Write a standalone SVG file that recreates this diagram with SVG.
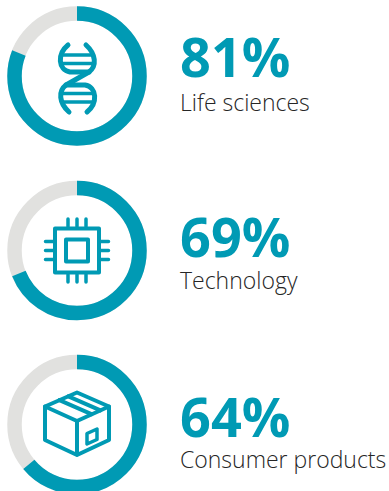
<svg xmlns="http://www.w3.org/2000/svg" width="389" height="491" viewBox="0 0 389 491">
<style>
.bg{fill:none;stroke:#E1E1DF;stroke-width:14.5}
.fg{fill:none;stroke:#009AB4;stroke-width:14.5}
.ic{fill:none;stroke:#009AB4;stroke-width:4;stroke-linecap:round;stroke-linejoin:round}
.pct{font-family:"Open Sans","Liberation Sans",sans-serif;font-weight:700;font-size:54px;fill:#009AB4}
.lbl{font-family:"Open Sans","Liberation Sans",sans-serif;font-weight:300;font-size:23px;fill:#262626}
</style>
<rect width="389" height="491" fill="#ffffff"/>
<g id="life-sciences">
<circle class="bg" cx="77" cy="76" r="62.5"/>
<circle class="fg" cx="77" cy="76" r="62.5" pathLength="100" stroke-dasharray="81 100" transform="rotate(-90 77 76)"/>
<g class="ic">
<path d="M68,45 C57,54 58,70 70,72 L89,72" stroke-width="5"/>
<path d="M86,45 C96,54 97,66 89,72 L66,85 C58,91 59,103 69,112" stroke-width="5"/>
<path d="M66,85 L85,85 C97,87 98,103 87,112" stroke-width="5"/>
<path d="M62,55 H93 M61,63.5 H94 M61,93.5 H94 M62,102 H93" stroke-width="3.5" stroke-linecap="butt"/>
</g>
<text class="pct" x="180" y="77">81%</text>
<text class="lbl" x="180" y="111">Life sciences</text>
</g>
<g id="technology">
<circle class="bg" cx="77" cy="250.5" r="62.5"/>
<circle class="fg" cx="77" cy="250.5" r="62.5" pathLength="100" stroke-dasharray="69 100" transform="rotate(-90 77 250.5)"/>
<g class="ic">
<rect x="55" y="228.5" width="44" height="44"/>
<rect x="66" y="239.5" width="22" height="22"/>
<path d="M68,226.5 V219 M77,226.5 V219 M86,226.5 V219 M68,274.5 V282 M77,274.5 V282 M86,274.5 V282 M53,241.5 H45.5 M53,250.5 H45.5 M53,259.5 H45.5 M101,241.5 H108.5 M101,250.5 H108.5 M101,259.5 H108.5" stroke-width="3.5"/>
</g>
<text class="pct" x="180" y="257">69%</text>
<text class="lbl" x="180" y="289">Technology</text>
</g>
<g id="consumer-products">
<circle class="bg" cx="77" cy="424.5" r="62.5"/>
<circle class="fg" cx="77" cy="424.5" r="62.5" pathLength="100" stroke-dasharray="64 100" transform="rotate(-90 77 424.5)"/>
<g class="ic">
<path d="M77,392.5 L45,406.5 L77,421 L109,406.5 Z"/>
<path d="M45,406.5 V440 L77,455 L109,440 V406.5 M77,421 V455"/>
<path d="M68.4,396.3 L100.4,410.3 M59.4,400.2 L91.4,414.2"/>
<path d="M87,433.5 L97,429 V439.5 L87,444 Z" stroke-width="3.5"/>
</g>
<text class="pct" x="180" y="437">64%</text>
<text class="lbl" x="180" y="468">Consumer products</text>
</g>
</svg>
